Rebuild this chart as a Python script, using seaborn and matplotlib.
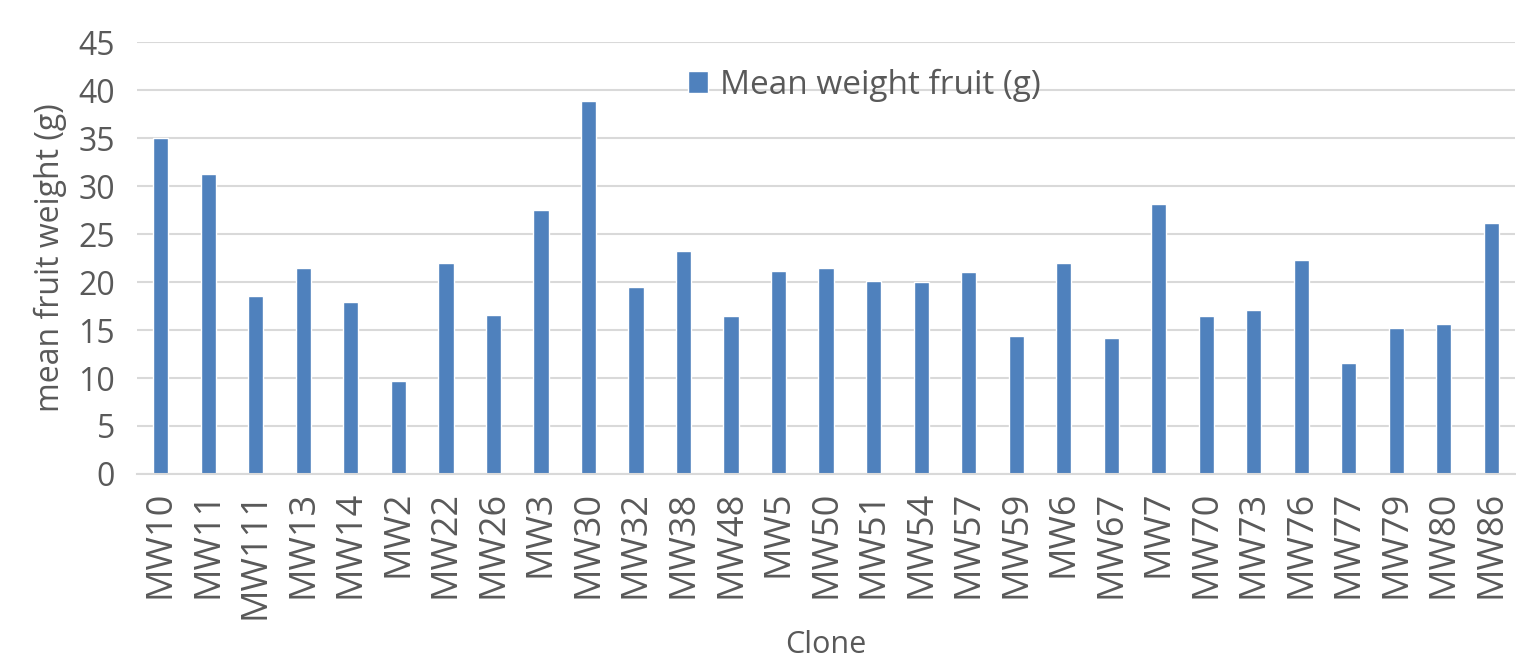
import matplotlib
matplotlib.use('Agg')
import matplotlib.pyplot as plt
import seaborn as sns
import pandas as pd

clones = ['MW10', 'MW11', 'MW111', 'MW13', 'MW14', 'MW2', 'MW22', 'MW26', 'MW3', 'MW30',
          'MW32', 'MW38', 'MW48', 'MW5', 'MW50', 'MW51', 'MW54', 'MW57', 'MW59', 'MW6',
          'MW67', 'MW7', 'MW70', 'MW73', 'MW76', 'MW77', 'MW79', 'MW80', 'MW86']
mean_weight = [35.0, 31.3, 18.6, 21.5, 17.9, 9.7, 22.0, 16.6, 27.5, 38.9,
               19.5, 23.2, 16.5, 21.2, 21.5, 20.1, 20.0, 21.1, 14.4, 22.0,
               14.2, 28.1, 16.5, 17.1, 22.3, 11.6, 15.2, 15.6, 26.2]
yticks = [0, 5, 10, 15, 20, 25, 30, 35, 40, 45]

df = pd.DataFrame({'Clone': clones, 'weight': mean_weight})

sns.set_style('white')
plt.rcParams['font.family'] = ['Open Sans', 'DejaVu Sans']
grey = '#595959'

fig = plt.figure(figsize=(15.16, 6.61), dpi=100)
ax = fig.add_axes([0.0904, 0.283, 0.909, 0.653])

sns.barplot(data=df, x='Clone', y='weight', color='#4F81BD', width=0.32,
            saturation=1, ax=ax, label='Mean weight fruit (g)')

ax.set_ylim(0, 45)
ax.set_yticks(yticks)
ax.set_xlim(-0.5, len(clones) - 0.5)
ax.yaxis.grid(True, color='#D9D9D9', linewidth=1.5)
ax.set_axisbelow(True)
for s in ['top', 'right', 'left']:
    ax.spines[s].set_visible(False)
ax.spines['bottom'].set_color('#D9D9D9')
ax.spines['bottom'].set_linewidth(1.5)
ax.tick_params(axis='both', length=0, colors=grey)
ax.tick_params(axis='y', labelsize=23, pad=16)
ax.tick_params(axis='x', labelsize=26, rotation=90, pad=12)
ax.set_ylabel('mean fruit weight (g)', fontsize=23, color=grey, labelpad=8)
ax.set_xlabel('Clone', fontsize=22, color=grey, labelpad=8)

ax.legend(loc='center', bbox_to_anchor=(0.57, 0.871), bbox_transform=fig.transFigure,
          frameon=False, fontsize=24, labelcolor=grey, handlelength=0.62,
          handleheight=0.62, handletextpad=0.35)

fig.savefig('out.png', dpi=100)
